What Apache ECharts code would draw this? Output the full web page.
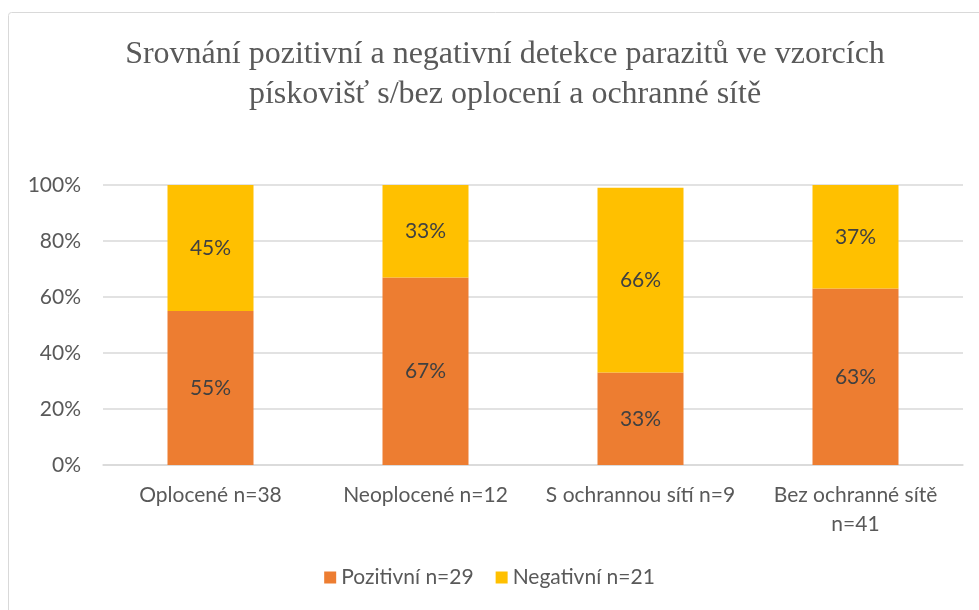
<!DOCTYPE html>
<html><head><meta charset="utf-8">
<script src="https://cdn.jsdelivr.net/npm/echarts@6/dist/echarts.min.js"></script>
<style>html,body{margin:0;padding:0;background:#fff}#c{width:979px;height:610px}</style>
</head><body><div id="c"></div>
<script>
const titleText = 'Srovnání pozitivní a negativní detekce parazitů ve vzorcích\npískovišť s/bez oplocení a ochranné sítě';
const categories = ['Oplocené n=38', 'Neoplocené n=12', 'S ochrannou sítí n=9', 'Bez ochranné sítě\nn=41'];
const seriesNames = ['Pozitivní n=29', 'Negativní n=21'];
const positive = [55, 67, 33, 63];
const negative = [45, 33, 66, 37];
const yTicks = [0, 20, 40, 60, 80, 100];

const font = 'Lato, "Open Sans", sans-serif';
const chart = echarts.init(document.getElementById('c'));
const lbl = {show: true, position: 'inside', formatter: p => p.value + '%', color: '#404040', fontSize: 21, fontFamily: font};
chart.setOption({
  animation: false,
  graphic: [{type: 'rect', shape: {x: 8.5, y: 12.5, width: 990, height: 620, r: 3}, style: {fill: 'none', stroke: '#d9d9d9', lineWidth: 1}, z: -1}],
  title: {text: titleText, left: 500, textAlign: 'center', top: 30,
    textStyle: {fontFamily: '"Liberation Serif", serif', fontSize: 32, fontWeight: 'normal', color: '#595959', lineHeight: 40}},
  legend: {bottom: 17, left: 'center', itemWidth: 12, itemHeight: 12, itemGap: 22, icon: 'rect',
    textStyle: {fontFamily: font, fontSize: 21, color: '#595959'}, data: seriesNames},
  grid: {left: 103, width: 860, top: 185, height: 280},
  xAxis: {type: 'category', data: categories,
    axisLine: {lineStyle: {color: '#d9d9d9', width: 1.5}}, axisTick: {show: false},
    axisLabel: {fontFamily: font, fontSize: 21, color: '#595959', margin: 16, lineHeight: 29, interval: 0}},
  yAxis: {type: 'value', min: 0, max: 100, interval: 20,
    axisLabel: {formatter: v => yTicks.includes(v) ? v + '%' : '', fontFamily: font, fontSize: 21, color: '#595959', margin: 22},
    splitLine: {lineStyle: {color: '#d9d9d9', width: 1.5}}, axisLine: {show: false}, axisTick: {show: false}},
  series: [
    {name: seriesNames[0], type: 'bar', stack: 'a', data: positive, barWidth: '40%', itemStyle: {color: '#ed7d31'}, label: lbl},
    {name: seriesNames[1], type: 'bar', stack: 'a', data: negative, barWidth: '40%', itemStyle: {color: '#ffc000'}, label: lbl}
  ]
});
</script></body></html>
